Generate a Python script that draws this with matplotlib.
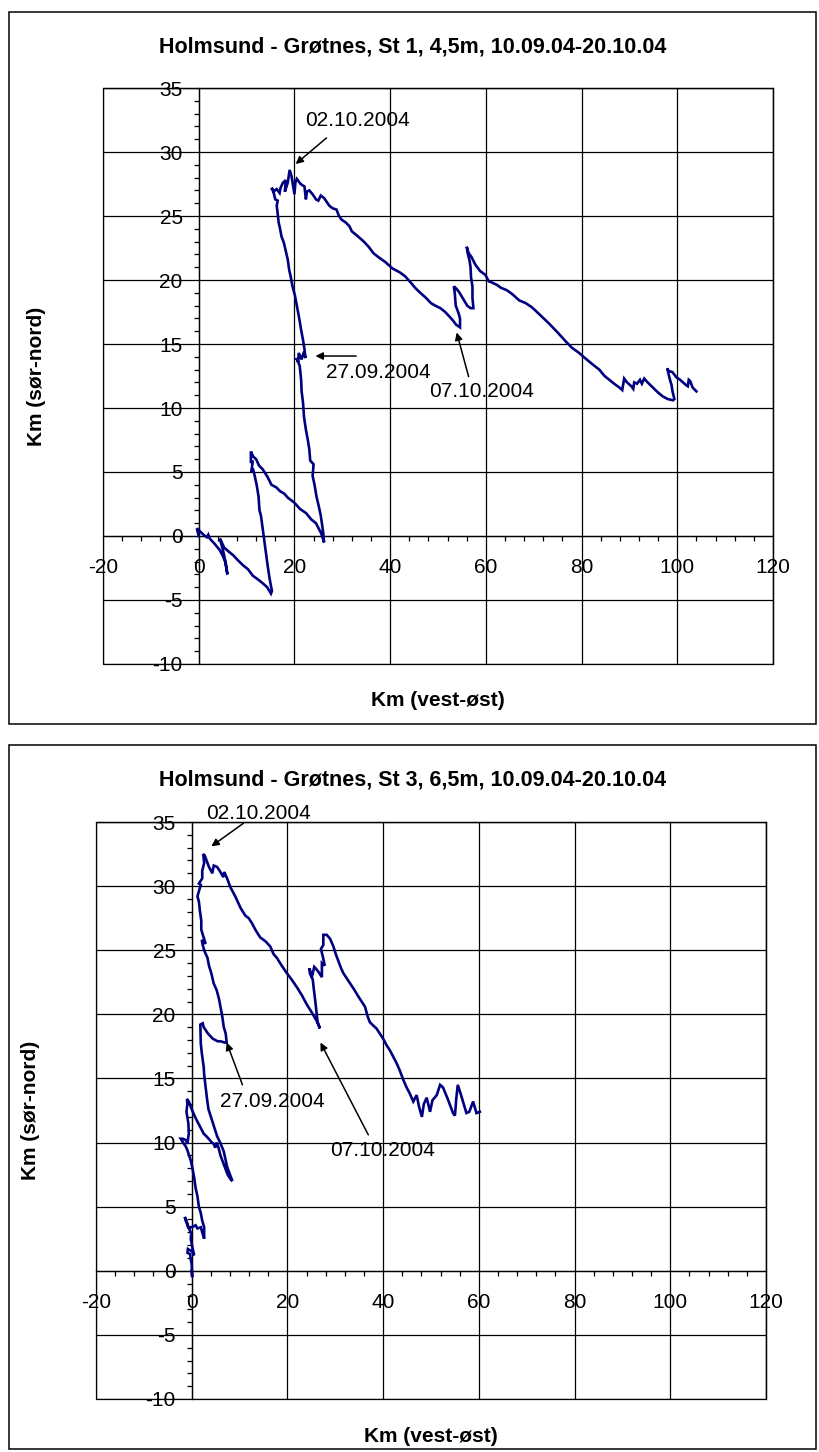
import matplotlib
matplotlib.use("Agg")
import matplotlib.pyplot as plt
from matplotlib.ticker import MultipleLocator
from matplotlib.patches import Rectangle

plt.rcParams['font.family'] = ['Liberation Sans', 'DejaVu Sans']
plt.rcParams['axes.unicode_minus'] = False

# ---------------- data (km) ----------------
st1_x = [0.0, -0.4, 0.3, 1.0, 1.7, 2.0, 2.3, 3.3, 4.4, 5.1, 5.6, 5.8, 6.0, 5.6, 5.0, 4.4, 4.7, 5.3,
         6.2, 7.2, 8.2, 9.3, 10.3, 11.3, 12.4, 13.4, 14.3, 15.1, 15.3, 14.8, 14.4, 14.0, 13.7, 13.4,
         13.0, 12.7, 12.5, 12.1, 11.7, 11.3, 11.0, 11.3, 10.9, 10.9, 11.4, 12.0, 12.6, 13.4, 14.4,
         15.2, 16.2, 17.0, 17.9, 18.6, 20.0, 21.2, 22.4, 23.5, 24.5, 25.2, 25.6, 26.2, 26.0, 25.5,
         25.1, 24.6, 24.2, 23.8, 24.0, 23.3, 23.1, 22.8, 22.4, 22.0, 21.8, 21.5, 21.4, 21.1, 20.4,
         20.8, 20.9, 21.5, 22.0, 22.3, 22.1, 21.8, 21.4, 21.0, 20.5, 20.1, 19.6, 19.2, 18.9, 18.6,
         18.3, 17.8, 17.3, 17.0, 16.7, 16.5, 16.3, 16.5, 16.0, 15.8, 15.6, 15.2, 15.6, 16.3, 16.9,
         17.1, 17.6, 18.2, 18.0, 18.6, 19.0, 19.4, 20.0, 20.2, 20.5, 21.3, 22.1, 22.4, 22.6, 23.1,
         23.8, 24.5, 25.0, 25.5, 26.2, 27.3, 28.0, 28.8, 29.3, 29.9, 30.7, 31.5, 32.0, 33.3, 34.5,
         35.5, 36.5, 37.5, 39.0, 40.5, 42.0, 43.1, 44.3, 45.2, 46.0, 47.5, 48.5, 49.4, 50.5, 51.5,
         52.5, 53.2, 53.8, 54.6, 54.6, 54.3, 53.7, 53.5, 53.3, 53.9, 54.5, 55.3, 56.1, 56.8, 57.4,
         57.2, 57.2, 56.9, 56.8, 56.6, 56.2, 56.0, 56.4, 57.0, 57.8, 58.8, 59.9, 60.6, 61.3, 62.4,
         63.1, 64.4, 65.5, 67.0, 68.3, 69.5, 70.4, 71.8, 73.2, 75.0, 76.7, 78.0, 79.5, 80.4, 82.0,
         83.7, 84.8, 85.8, 86.8, 87.9, 88.5, 88.9, 89.5, 90.4, 90.8, 91.0, 91.6, 92.2, 92.6, 93.1,
         93.8, 94.9, 96.0, 97.0, 98.0, 99.1, 99.4, 99.0, 98.8, 98.4, 97.9, 98.2, 99.0, 99.8, 100.6,
         101.2, 101.8, 102.2, 102.4, 102.7, 103.2, 104.0]
st1_y = [0.0, 0.6, 0.35, 0.1, -0.1, 0.1, -0.2, -0.6, -1.1, -1.6, -2.1, -2.6, -3.0, -2.0, -1.0, -0.2,
         -0.4, -0.9, -1.2, -1.5, -1.9, -2.3, -2.6, -3.1, -3.4, -3.7, -4.0, -4.5, -4.3, -3.3, -2.3,
         -1.2, -0.4, 0.5, 1.6, 2.0, 3.1, 4.0, 4.7, 5.3, 5.0, 5.9, 5.7, 6.6, 6.2, 6.0, 5.5, 5.2, 4.6,
         4.0, 3.8, 3.5, 3.3, 3.0, 2.6, 2.1, 1.8, 1.3, 1.0, 0.5, 0.2, -0.5, 0.3, 1.6, 2.3, 3.1, 4.0,
         4.7, 5.6, 5.9, 6.8, 7.5, 8.3, 9.3, 10.4, 11.3, 12.2, 13.3, 13.9, 13.6, 14.3, 13.8, 14.4,
         13.9, 14.6, 15.3, 16.1, 17.0, 18.0, 18.8, 19.5, 20.3, 20.8, 21.6, 22.1, 22.9, 23.4, 24.0,
         24.5, 25.2, 25.8, 26.2, 26.3, 26.6, 27.0, 27.2, 26.9, 27.1, 26.8, 27.2, 27.6, 27.8, 26.9,
         27.6, 28.6, 28.1, 26.7, 27.6, 27.9, 27.5, 27.3, 26.3, 26.9, 27.0, 26.7, 26.3, 26.2, 26.6,
         26.4, 25.8, 25.6, 25.5, 25.0, 24.7, 24.5, 24.2, 23.8, 23.4, 23.0, 22.6, 22.1, 21.8, 21.4,
         20.9, 20.6, 20.3, 19.8, 19.4, 19.1, 18.6, 18.2, 18.0, 17.8, 17.5, 17.1, 16.8, 16.5, 16.3,
         17.0, 17.4, 18.0, 19.0, 19.5, 19.3, 19.0, 18.5, 18.0, 17.8, 17.8, 18.6, 19.5, 20.2, 21.0,
         21.5, 22.1, 22.6, 22.1, 21.8, 21.2, 20.7, 20.4, 19.9, 19.8, 19.6, 19.4, 19.2, 18.9, 18.4,
         18.2, 17.9, 17.6, 17.1, 16.6, 15.9, 15.2, 14.7, 14.3, 14.0, 13.5, 13.0, 12.5, 12.2, 11.9,
         11.6, 11.4, 12.3, 12.0, 11.7, 11.5, 12.0, 11.9, 12.2, 11.9, 12.3, 12.0, 11.6, 11.2, 10.9,
         10.7, 10.6, 10.7, 11.3, 11.8, 12.3, 13.1, 12.9, 12.8, 12.4, 12.2, 12.0, 11.8, 11.7, 12.2,
         12.1, 11.6, 11.3]

st3_x = [0.0, 0.1, 0.0, -0.2, -0.35, -0.9, -0.8, 0.1, 0.5, 0.1, -0.2, -0.1, -0.55, -1.25, -1.45,
         -1.0, -0.75, 0.1, 0.8, 1.2, 1.9, 2.2, 2.6, 2.6, 2.2, 1.9, 1.5, 1.2, 0.8, 0.5, 0.1, -0.2,
         -0.55, -0.9, -1.25, -1.9, -2.3, -1.9, -1.25, -0.9, -0.6, -0.7, -1.1, -0.9, -1.0, -0.6, 0.1,
         0.7, 1.1, 1.8, 2.5, 3.3, 4.2, 4.6, 4.9, 5.2, 5.6, 6.0, 6.5, 7.0, 7.5, 8.0, 8.5, 7.4, 6.7,
         6.0, 5.3, 4.2, 3.5, 3.2, 2.8, 2.6, 2.5, 2.1, 1.9, 1.8, 2.3, 2.5, 3.4, 4.4, 5.4, 6.0, 6.9,
         7.3, 7.1, 6.7, 6.4, 6.0, 5.7, 5.2, 4.6, 4.1, 3.6, 3.3, 2.7, 2.3, 2.1, 2.9, 2.0, 2.0, 1.7,
         1.5, 1.2, 1.5, 1.9, 1.5, 2.2, 2.2, 2.6, 2.4, 2.7, 3.3, 3.6, 4.3, 4.6, 5.3, 6.0, 6.6, 6.8,
         7.4, 8.1, 9.1, 10.2, 11.2, 11.9, 12.6, 13.3, 14.3, 15.4, 16.4, 17.1, 17.8, 18.8, 19.9,
         20.9, 22.0, 23.0, 24.0, 25.0, 26.1, 26.8, 26.3, 25.8, 25.5, 25.3, 24.7, 24.6, 25.1, 25.6,
         26.1, 26.5, 27.2, 27.2, 27.8, 27.4, 27.0, 27.5, 27.5, 28.2, 28.9, 29.6, 30.1, 30.6, 31.2,
         31.7, 32.4, 33.1, 34.0, 34.8, 35.5, 36.2, 36.8, 37.2, 38.0, 38.6, 39.3, 40.0, 40.7, 41.4,
         42.1, 42.8, 43.5, 44.2, 44.9, 45.6, 46.3, 47.0, 47.5, 48.1, 48.5, 49.1, 49.8, 50.3, 51.2,
         51.9, 52.5, 53.5, 54.6, 55.0, 55.3, 55.6, 56.2, 57.4, 58.0, 58.8, 59.5, 60.2]
st3_y = [0.0, -0.5, 0.5, 0.9, 1.3, 1.4, 1.7, 1.5, 1.2, 1.9, 2.5, 2.9, 3.3, 3.9, 4.2, 3.8, 3.4, 3.4,
         3.55, 3.3, 3.4, 3.0, 2.5, 3.4, 3.9, 4.5, 5.0, 5.8, 6.5, 7.3, 8.1, 8.6, 9.0, 9.4, 9.7,
         10.05, 10.3, 10.3, 10.2, 9.9, 10.7, 11.5, 12.4, 13.0, 13.4, 13.2, 12.5, 12.0, 11.7, 11.2,
         10.7, 10.4, 10.0, 9.9, 9.6, 10.0, 9.6, 9.0, 8.5, 8.0, 7.5, 7.2, 7.0, 8.1, 9.3, 9.95, 10.5,
         11.8, 12.6, 13.4, 14.7, 15.3, 15.9, 17.0, 17.7, 19.2, 19.3, 19.0, 18.5, 18.1, 17.9, 17.9,
         17.8, 17.8, 18.5, 19.0, 19.8, 20.6, 21.2, 21.9, 22.4, 23.2, 23.8, 24.4, 24.9, 25.4, 25.8,
         25.5, 26.6, 27.3, 28.1, 28.8, 29.2, 29.6, 30.1, 30.2, 30.6, 31.2, 31.8, 32.5, 32.4, 31.8,
         31.5, 31.0, 31.6, 31.5, 31.1, 30.7, 31.1, 30.6, 29.9, 29.2, 28.3, 27.7, 27.5, 27.1, 26.6,
         26.0, 25.7, 25.3, 24.7, 24.4, 23.8, 23.2, 22.7, 22.1, 21.5, 20.8, 20.2, 19.5, 18.9, 19.4,
         21.1, 22.0, 22.7, 23.2, 23.6, 22.9, 23.7, 23.5, 23.3, 22.9, 24.0, 23.8, 24.5, 25.1, 25.4,
         26.2, 26.2, 25.9, 25.3, 24.7, 24.2, 23.6, 23.2, 22.8, 22.4, 21.9, 21.4, 21.0, 20.6, 19.8,
         19.4, 19.1, 18.9, 18.5, 18.1, 17.6, 17.2, 16.7, 16.2, 15.6, 14.9, 14.3, 13.8, 13.2, 13.7,
         12.8, 12.0, 13.0, 13.5, 12.4, 13.3, 13.7, 14.5, 14.3, 13.4, 12.3, 12.1, 13.5, 14.5, 13.8,
         12.3, 12.4, 13.2, 12.3, 12.4]

titles = ["Holmsund - Grøtnes, St 1, 4,5m, 10.09.04-20.10.04",
          "Holmsund - Grøtnes, St 3, 6,5m, 10.09.04-20.10.04"]
x_label = "Km (vest-øst)"
y_label = "Km (sør-nord)"
date_labels = ["02.10.2004", "27.09.2004", "07.10.2004"]

# annotation geometry (data coords): text anchor (left, centre), arrow tail, arrow tip
st1_text = [(22.3, 32.5), (26.5, 12.8), (48.2, 11.3)]
st1_tail = [(26.7, 31.1), (32.9, 14.06), (56.4, 12.45)]
st1_tip = [(20.25, 29.06), (24.4, 14.06), (53.9, 15.9)]
st3_text = [(3.1, 35.7), (6.0, 13.2), (29.0, 9.4)]
st3_tail = [(10.8, 34.9), (10.6, 14.5), (36.9, 10.6)]
st3_tip = [(4.1, 33.1), (7.3, 17.8), (26.9, 17.8)]

# ---------------- layout ----------------
W, H = 819, 1452
fig = plt.figure(figsize=(W / 100, H / 100), dpi=100)


def rect(l, t, r, b):
    return [l / W, 1 - b / H, (r - l) / W, (b - t) / H]


def fx(px):
    return px / W


def fy(py):
    return 1 - py / H


LINE = '#000080'
FS = 15


def draw_panel(ax, xs, ys, texts, tails, tips):
    ax.set_xlim(-20, 120)
    ax.set_ylim(-10, 35)
    ax.set_xticks(range(-20, 121, 20))
    ax.set_yticks(range(-10, 36, 5))
    ax.xaxis.set_minor_locator(MultipleLocator(4))
    ax.yaxis.set_minor_locator(MultipleLocator(1))
    ax.spines['left'].set_position(('data', 0))
    ax.spines['bottom'].set_position(('data', 0))
    for s in ax.spines.values():
        s.set_color('black')
        s.set_linewidth(0.9)
    ax.grid(True, which='major', color='black', lw=0.9)
    ax.set_axisbelow(True)
    ax.tick_params(which='major', length=0, labelsize=FS, colors='black')
    ax.tick_params(axis='y', which='major', pad=11.5)
    ax.tick_params(axis='x', which='major', pad=16)
    ax.tick_params(which='minor', direction='out', length=3.8, width=0.9, color='black')
    ax.add_patch(Rectangle((0, 0), 1, 1, transform=ax.transAxes, fill=False,
                           ec='black', lw=0.9, zorder=5, clip_on=False))
    ax.plot(xs, ys, color=LINE, lw=1.9, zorder=3, solid_joinstyle='miter')
    for lab, tpos, tl, tp in zip(date_labels, texts, tails, tips):
        ax.text(tpos[0], tpos[1], lab, fontsize=FS, ha='left', va='center', zorder=6)
        ax.annotate('', xy=tp, xytext=tl,
                    arrowprops=dict(arrowstyle='-|>', color='black', lw=1.1,
                                    shrinkA=0, shrinkB=0, mutation_scale=11),
                    zorder=6)


# panel frames
for (l, t, r, b) in [(9, 12, 816, 724), (9, 745, 816, 1449)]:
    fig.add_artist(Rectangle((fx(l), fy(b)), fx(r) - fx(l), fy(t) - fy(b),
                             transform=fig.transFigure, fill=False, ec='black', lw=1.1))

ax1 = fig.add_axes(rect(103, 88, 773, 664))
draw_panel(ax1, st1_x, st1_y, st1_text, st1_tail, st1_tip)
ax2 = fig.add_axes(rect(96, 822, 766, 1399))
draw_panel(ax2, st3_x, st3_y, st3_text, st3_tail, st3_tip)

# titles and axis labels
fig.text(fx(413), fy(47), titles[0], fontsize=15.5, fontweight='bold', ha='center', va='center')
fig.text(fx(413), fy(780), titles[1], fontsize=15.5, fontweight='bold', ha='center', va='center')
fig.text(fx(438), fy(700), x_label, fontsize=15, fontweight='bold', ha='center', va='center')
fig.text(fx(431), fy(1437), x_label, fontsize=15, fontweight='bold', ha='center', va='center')
fig.text(fx(37), fy(376), y_label, fontsize=15, fontweight='bold', ha='center', va='center', rotation=90)
fig.text(fx(30), fy(1110), y_label, fontsize=15, fontweight='bold', ha='center', va='center', rotation=90)

fig.savefig('out.png', dpi=100, facecolor='white')
